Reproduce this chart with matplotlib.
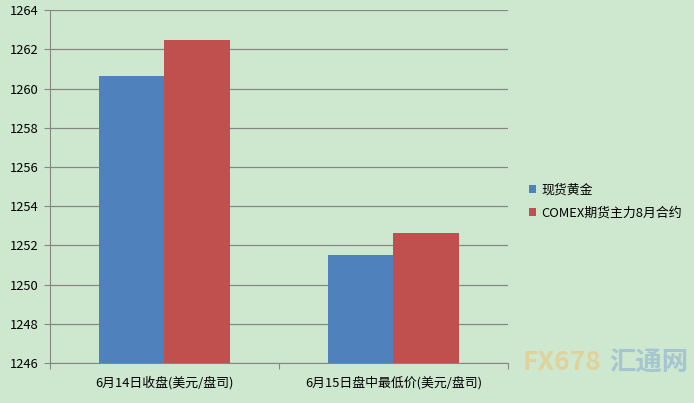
import matplotlib.pyplot as plt
import numpy as np

plt.rcParams['font.family'] = ['Noto Sans CJK SC', 'DejaVu Sans']

categories = ['6月14日收盘(美元/盘司)', '6月15日盘中最低价(美元/盘司)']
series_names = ['现货黄金', 'COMEX期货主力8月合约']
spot_gold = [1260.63, 1251.52]
comex_aug = [1262.48, 1252.64]
colors = ['#4f81bd', '#c0504d']
bg = '#cee8d0'

fig = plt.figure(figsize=(6.94, 4.03), dpi=100, facecolor=bg)
ax = fig.add_axes([0.072, 0.099, 0.66, 0.876], facecolor=bg)

x = np.arange(len(categories))
w = 0.284
ax.bar(x - w / 2, np.array(spot_gold) - 1246, w, bottom=1246,
       color=colors[0], label=series_names[0], zorder=3)
ax.bar(x + w / 2, np.array(comex_aug) - 1246, w, bottom=1246,
       color=colors[1], label=series_names[1], zorder=3)

ax.set_ylim(1246, 1264)
ax.set_xlim(-0.5, 1.5)
ax.set_yticks(np.arange(1246, 1265, 2))
ax.yaxis.grid(True, color='#868686', lw=0.9, zorder=0)

ax.set_xticks([-0.5, 0.5, 1.5])
ax.set_xticklabels([])
ax.set_xticks(x, minor=True)
ax.set_xticklabels(categories, minor=True, fontsize=9.3)
ax.tick_params(axis='x', which='minor', length=0, pad=9)
ax.tick_params(axis='x', which='major', length=4, color='#868686')
ax.tick_params(axis='y', length=4, color='#868686', labelsize=9.3, pad=4)

for side in ['top', 'right']:
    ax.spines[side].set_visible(False)
ax.spines['left'].set_color('#868686')
ax.spines['bottom'].set_color('#868686')

fig.legend(loc='center left', bbox_to_anchor=(0.745, 0.5), frameon=False,
           fontsize=9.3, handlelength=0.6, handleheight=0.6, handletextpad=0.4,
           labelspacing=0.8)

# faint site watermark
fig.text(0.81, 0.1, 'FX678', fontsize=19, fontweight='bold', color='#f0c070',
         alpha=0.55, ha='center', va='center')
fig.text(0.935, 0.1, '汇通网', fontsize=19, fontweight='bold', color='#8aaed0',
         alpha=0.6, ha='center', va='center')

fig.savefig('out.png', dpi=100, facecolor=bg)
